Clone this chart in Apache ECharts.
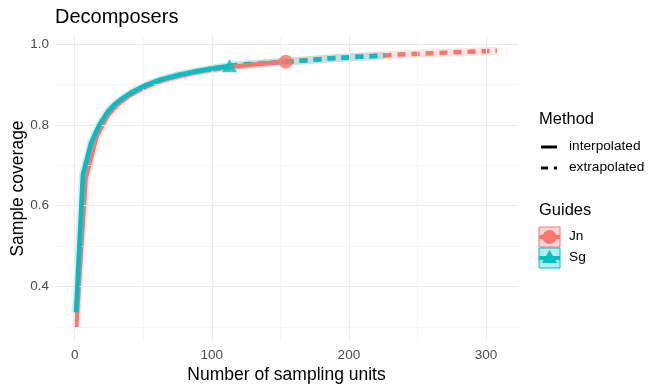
<!DOCTYPE html>
<html><head><meta charset="utf-8">
<script src="https://cdn.jsdelivr.net/npm/echarts@6/dist/echarts.min.js"></script>
<style>html,body{margin:0;background:#fff}#c{width:651px;height:387px}</style>
</head><body><div id="c"></div>
<script>
// Jn (Guides) – sampling units vs sample coverage
const jnX = [1,8,16,24,32,40,48,56,63,71,79,87,95,103,111,119,127,134,142,150,154,158,166,174,182,190,197,205,213,221,229,237,245,253,261,268,276,284,292,300,308];
const jnY = [0.300,0.668,0.772,0.823,0.853,0.873,0.888,0.900,0.909,0.917,0.923,0.929,0.934,0.938,0.942,0.945,0.948,0.950,0.953,0.955,0.956,0.957,0.959,0.961,0.963,0.965,0.966,0.968,0.969,0.971,0.972,0.974,0.975,0.976,0.977,0.978,0.979,0.980,0.981,0.982,0.983];
const jnObs = 154;
// Sg
const sgX = [1,6,12,18,24,29,35,41,47,52,58,64,70,75,81,87,93,98,104,110,113,116,122,127,133,139,145,150,156,162,168,174,179,185,191,197,202,208,214,220,226];
const sgY = [0.336,0.677,0.756,0.800,0.832,0.850,0.866,0.879,0.890,0.898,0.906,0.913,0.918,0.923,0.927,0.931,0.935,0.938,0.941,0.944,0.946,0.947,0.949,0.950,0.951,0.953,0.954,0.955,0.956,0.958,0.959,0.961,0.962,0.964,0.965,0.966,0.967,0.968,0.969,0.970,0.971];
const sgObs = 113;
const xTicks = [0,100,200,300];
const yTicks = [0.4,0.6,0.8,1.0];
const xMinor = [50,150,250];
const yMinor = [0.3,0.5,0.7,0.9];

const RED = '#F8766D', TEAL = '#00BFC4';
const FONT = 'Liberation Sans';

function pts(xs, ys, f){ const o=[]; xs.forEach((x,i)=>{ if(f(x)) o.push([x,ys[i]]); }); return o; }
function obsPt(xs, ys, obs){ return [[obs, ys[xs.indexOf(obs)]]]; }

const gridLines = [].concat(
  xMinor.map(v=>({xAxis:v, lineStyle:{color:'#f2f2f2', width:0.7, type:'solid'}})),
  yMinor.map(v=>({yAxis:v, lineStyle:{color:'#f2f2f2', width:0.7, type:'solid'}})),
  xTicks.map(v=>({xAxis:v, lineStyle:{color:'#ebebeb', width:1.1, type:'solid'}})),
  yTicks.map(v=>({yAxis:v, lineStyle:{color:'#ebebeb', width:1.1, type:'solid'}}))
);

function lineSeries(data, color, dashed, z){
  return {type:'line', data, showSymbol:false, symbol:'none', z, silent:true, animation:false,
    lineStyle:{color, width:4.5, type: dashed ? [8,6] : 'solid', cap:'butt', join:'round'}};
}
function bandSeries(data, color, z){
  return {type:'line', data, showSymbol:false, symbol:'none', z, silent:true, animation:false,
    lineStyle:{color, width:8, opacity:0.2, cap:'butt', join:'round'}};
}

const chart = echarts.init(document.getElementById('c'), null, {renderer:'canvas'});
chart.setOption({
  backgroundColor:'#fff',
  animation:false,
  title:{text:'Decomposers', left:55, top:7, padding:0, textStyle:{fontFamily:FONT, fontSize:20, fontWeight:'normal', color:'#000'}},
  grid:{left:55, right:133, top:36, bottom:46, containLabel:false, outerBoundsMode:'none'},
  xAxis:{type:'value', min:-14.35, max:323.35,
    name:'Number of sampling units', nameLocation:'middle', nameGap:25, nameMoveOverlap:false,
    nameTextStyle:{fontFamily:FONT, fontSize:17.5, color:'#000'},
    axisLine:{show:false}, axisTick:{show:false}, splitLine:{show:false},
    axisLabel:{customValues:xTicks, margin:7, fontFamily:FONT, fontSize:13.5, color:'#4d4d4d'}},
  yAxis:{type:'value', min:0.2655, max:1.0195,
    name:'Sample coverage', nameLocation:'middle', nameGap:28, nameMoveOverlap:false,
    nameTextStyle:{fontFamily:FONT, fontSize:17.5, color:'#000'},
    axisLine:{show:false}, axisTick:{show:false}, splitLine:{show:false},
    axisLabel:{customValues:yTicks, margin:6, fontFamily:FONT, fontSize:13.5, color:'#4d4d4d', formatter:v=>v.toFixed(1)}},
  series:[
    {type:'scatter', data:[], z:0, silent:true,
      markLine:{silent:true, symbol:['none','none'], label:{show:false}, animation:false, data:gridLines}},
    bandSeries(pts(jnX,jnY,x=>true), RED, 1),
    bandSeries(pts(sgX,sgY,x=>true), TEAL, 1),
    lineSeries(pts(jnX,jnY,x=>x>=jnObs), RED, true, 2),
    lineSeries(pts(sgX,sgY,x=>x>=sgObs), TEAL, true, 3),
    lineSeries(pts(jnX,jnY,x=>x<=jnObs), RED, false, 4),
    lineSeries(pts(sgX,sgY,x=>x<=sgObs), TEAL, false, 5),
    {type:'scatter', data:obsPt(jnX,jnY,jnObs), symbol:'circle', symbolSize:14, z:6, silent:true,
      itemStyle:{color:RED}},
    {type:'scatter', data:obsPt(sgX,sgY,sgObs), symbol:'triangle', symbolSize:[15,13], z:6, silent:true,
      itemStyle:{color:TEAL}}
  ],
  graphic:[
    {type:'text', left:539, top:111, style:{text:'Method', font:'16.5px "Liberation Sans"', fill:'#000'}},
    {type:'line', shape:{x1:541,y1:147,x2:557,y2:147}, style:{stroke:'#000', lineWidth:3}},
    {type:'text', left:569, top:139, style:{text:'interpolated', font:'13.7px "Liberation Sans"', fill:'#000'}},
    {type:'line', shape:{x1:541,y1:168,x2:557,y2:168}, style:{stroke:'#000', lineWidth:3, lineDash:[7,6]}},
    {type:'text', left:569, top:160, style:{text:'extrapolated', font:'13.7px "Liberation Sans"', fill:'#000'}},
    {type:'text', left:539, top:202, style:{text:'Guides', font:'16.5px "Liberation Sans"', fill:'#000'}},
    {type:'rect', shape:{x:539,y:227,width:21,height:20}, style:{fill:'rgba(248,118,109,0.3)', stroke:RED, lineWidth:1}},
    {type:'line', shape:{x1:539,y1:237,x2:560,y2:237}, style:{stroke:RED, lineWidth:4}},
    {type:'circle', shape:{cx:549.5,cy:237,r:7}, style:{fill:RED}},
    {type:'text', left:569, top:229, style:{text:'Jn', font:'13.7px "Liberation Sans"', fill:'#000'}},
    {type:'rect', shape:{x:539,y:248,width:21,height:20}, style:{fill:'rgba(0,191,196,0.3)', stroke:TEAL, lineWidth:1}},
    {type:'line', shape:{x1:539,y1:258,x2:560,y2:258}, style:{stroke:TEAL, lineWidth:4}},
    {type:'polygon', shape:{points:[[549.5,250],[557,263],[542,263]]}, style:{fill:TEAL}},
    {type:'text', left:569, top:250, style:{text:'Sg', font:'13.7px "Liberation Sans"', fill:'#000'}}
  ]
});
</script></body></html>
